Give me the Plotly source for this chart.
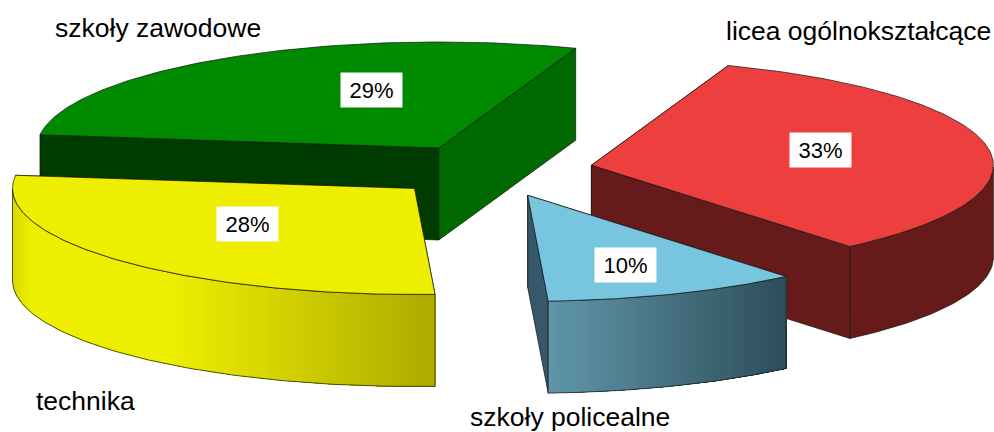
import numpy as np
import plotly.graph_objects as go

# --- data (clockwise from the red slice) ---
categories = ["licea ogólnokształcące", "szkoły policealne", "technika", "szkoły zawodowe"]
shares = [33.36, 10.3, 27.8, 28.54]

# --- drawing parameters ---
W, H = 994, 432
CX, CY = 490, 170
RX, RY = 402, 106
EXPLODE = [103, 103, 103, 98]
DEPTH = 92
START = 19.9

top_colors = ["#ee3f3f", "#78c5df", "#eeee00", "#008a00"]
start_face = ["#661a1a", "#37586a", "#b0aa00", "#003c00"]
end_face = ["#661a1a", "#37586a", "#b0aa00", "#006a00"]
# piecewise wall shading: (screen x, r, g, b)
wall_shades = [
    [(0, 102, 26, 26), (994, 102, 26, 26)],
    [(549, 96, 150, 170), (785, 46, 78, 90)],
    [(12, 218, 218, 0), (30, 238, 238, 0), (170, 238, 238, 0), (436, 174, 170, 0)],
    [(0, 0, 60, 0), (994, 0, 60, 0)],
]
category_pos = [(858, 31), (570, 417), (85, 401), (158, 28)]
pct_pos = [(820, 150), (625, 265), (247, 224), (371, 90)]
draw_order = [3, 0, 2, 1]
EDGE = "rgba(20,25,20,0.9)"
EDGE_W = 0.8


def rim(cx, cy, deg):
    t = np.radians(deg)
    return cx + RX * np.sin(t), cy - RY * np.cos(t)


def poly(fig, x, y, fill, line=EDGE, lw=EDGE_W):
    fig.add_trace(go.Scatter(
        x=list(x) + [x[0]], y=list(y) + [y[0]], mode="lines", fill="toself",
        fillcolor=fill, line=dict(color=line, width=lw), hoverinfo="skip", showlegend=False,
    ))


def shade(x, stops):
    xs = [s[0] for s in stops]
    rgb = [np.interp(x, xs, [s[i] for s in stops]) for i in (1, 2, 3)]
    return "rgb(%d,%d,%d)" % tuple(rgb)


edges = START + np.concatenate([[0], np.cumsum(shares)]) * 3.6
fig = go.Figure()

for i in draw_order:
    a0, a1 = edges[i], edges[i + 1]
    mid = np.radians((a0 + a1) / 2)
    cx = CX + EXPLODE[i] * np.sin(mid)
    cy = CY - EXPLODE[i] * (RY / RX) * np.cos(mid)
    angles = np.linspace(a0, a1, 121)
    rx, ry = rim(cx, cy, angles)

    # radial faces
    for a, col in ((a0, start_face[i]), (a1, end_face[i])):
        ex, ey = rim(cx, cy, a)
        poly(fig, [cx, ex, ex, cx], [cy, ey, ey + DEPTH, cy + DEPTH], col)

    # outer wall: only the front half of the rim is visible
    front = np.cos(np.radians(angles)) < 0
    if front.any():
        fa = angles[front]
        fx, fy = rim(cx, cy, fa)
        order = np.argsort(fx)          # paint left to right, each strip reaching the wall's right end
        fx_s, fy_s = fx[order], fy[order]
        solid = wall_shades[i][0][1:] == wall_shades[i][-1][1:]
        for k in range(0, 1 if solid else len(fx_s) - 1):
            c = shade(fx_s[k], wall_shades[i])
            px = list(fx_s[k:]) + list(fx_s[k:][::-1])
            py = list(fy_s[k:]) + list(fy_s[k:][::-1] + DEPTH)
            poly(fig, px, py, c, line=c, lw=0)
        # wall outline
        ox = list(fx) + list(fx[::-1]) + [fx[0]]
        oy = list(fy + DEPTH) + list(fy[::-1]) + [fy[0] + DEPTH]
        fig.add_trace(go.Scatter(x=ox, y=oy, mode="lines", line=dict(color=EDGE, width=EDGE_W),
                                 hoverinfo="skip", showlegend=False))

    # top face
    poly(fig, [cx] + list(rx), [cy] + list(ry), top_colors[i])

annotations = []
for name, (x, y) in zip(categories, category_pos):
    annotations.append(dict(x=x, y=y, text=name, showarrow=False, xanchor="center", yanchor="middle",
                            font=dict(family="Liberation Sans", size=26.5, color="#000000")))
for s, (x, y) in zip(shares, pct_pos):
    annotations.append(dict(x=x, y=y, text=f"{round(s)}%", showarrow=False, xanchor="center", yanchor="middle",
                            width=61, height=34, borderpad=0, bgcolor="#ffffff",
                            font=dict(family="Liberation Sans", size=22, color="#000000")))

fig.update_layout(
    width=W, height=H, autosize=False, margin=dict(l=0, r=0, t=0, b=0),
    paper_bgcolor="white", plot_bgcolor="white", showlegend=False,
    xaxis=dict(range=[0, W], visible=False, fixedrange=True),
    yaxis=dict(range=[H, 0], visible=False, fixedrange=True),
    annotations=annotations,
)
fig.write_html("out.html", config={"displayModeBar": False},
               post_script="document.body.style.margin='0';document.body.style.overflow='hidden';")
